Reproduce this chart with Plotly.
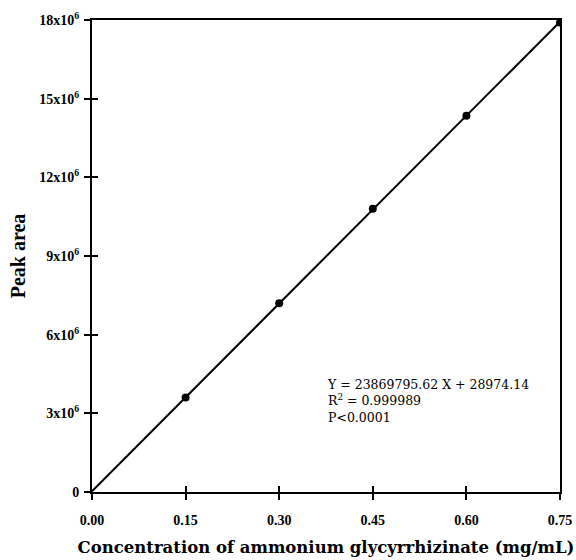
import plotly.graph_objects as go

conc = [0.15, 0.30, 0.45, 0.60, 0.75]
peak_area = [3.6e6, 7.2e6, 10.8e6, 14.35e6, 17.9e6]

fit_x = [0.0, 0.75]
fit_y = [28974.14, 17931321.36]

x_ticks = [0.0, 0.15, 0.30, 0.45, 0.60, 0.75]
x_ticktext = ["0.00", "0.15", "0.30", "0.45", "0.60", "0.75"]
y_ticks = [0, 3e6, 6e6, 9e6, 12e6, 15e6, 18e6]
y_ticktext = ["0", "3x10<sup>6</sup>", "6x10<sup>6</sup>", "9x10<sup>6</sup>",
              "12x10<sup>6</sup>", "15x10<sup>6</sup>", "18x10<sup>6</sup>"]

stats_lines = ["Y = 23869795.62 X + 28974.14", "R<sup>2</sup> = 0.999989", "P<0.0001"]

FONT = "Liberation Serif, Times New Roman, serif"
WIDE_FONT = "DejaVu Serif, serif"

fig = go.Figure()
fig.add_trace(go.Scatter(x=fit_x, y=fit_y, mode="lines",
                         line=dict(color="black", width=2), showlegend=False))
fig.add_trace(go.Scatter(x=conc, y=peak_area, mode="markers",
                         marker=dict(color="black", size=8), showlegend=False))
# invisible trace on the overlay axes so inside ticks render
fig.add_trace(go.Scatter(x=[0], y=[0], xaxis="x2", yaxis="y2", mode="markers",
                         marker=dict(opacity=0), showlegend=False, hoverinfo="skip"))

fig.add_annotation(
    text="<br>".join(stats_lines), xref="paper", yref="paper", x=0.497, y=0.248,
    xanchor="left", yanchor="top", align="left", showarrow=False,
    font=dict(family=WIDE_FONT, size=12.5, color="black"),
)

axis_common = dict(showgrid=False, zeroline=False, linecolor="black", linewidth=2,
                   ticks="outside", ticklen=6, tickwidth=2, tickcolor="black",
                   automargin=False,
                   tickfont=dict(family=FONT, size=14, color="black"))

fig.update_layout(
    width=576, height=560,
    paper_bgcolor="white", plot_bgcolor="white",
    margin=dict(l=92, r=16, t=20, b=68),
    font=dict(family=FONT, color="black"),
    xaxis=dict(range=[0, 0.75], tickvals=x_ticks,
               ticktext=["<b>%s</b>" % t for t in x_ticktext], mirror=True,
               ticklabelstandoff=8,
               title=dict(text="<b>Concentration of ammonium glycyrrhizinate (mg/mL)</b>",
                          font=dict(family=WIDE_FONT, size=16.5), standoff=15),
               **axis_common),
    yaxis=dict(range=[0, 18e6], tickvals=y_ticks,
               ticktext=["<b>%s</b>" % t for t in y_ticktext], mirror=True,
               ticklabelstandoff=2,
               title=dict(text="<b>Peak area</b>", font=dict(family=FONT, size=20), standoff=8),
               **axis_common),
    xaxis2=dict(range=[0, 0.75], overlaying="x", tickvals=x_ticks[1:-1], showticklabels=False,
                ticks="inside", ticklen=6, tickwidth=2, tickcolor="black",
                showgrid=False, zeroline=False, showline=False),
    yaxis2=dict(range=[0, 18e6], overlaying="y", tickvals=y_ticks[1:-1], showticklabels=False,
                ticks="inside", ticklen=6, tickwidth=2, tickcolor="black",
                showgrid=False, zeroline=False, showline=False),
)

# drop the browser's default body margin so the 576x560 figure fills the window exactly
fig.write_html("out.html", config={"displayModeBar": False},
               post_script="document.body.style.margin = '0';")
